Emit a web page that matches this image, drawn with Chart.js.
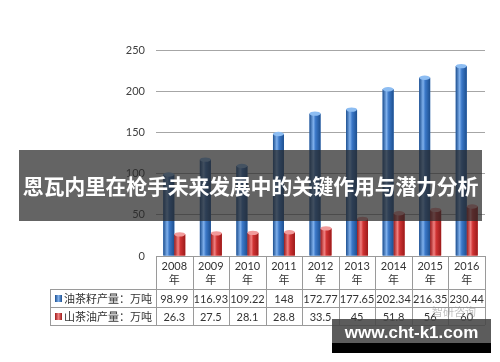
<!DOCTYPE html>
<html>
<head>
<meta charset="utf-8">
<script src="https://cdn.jsdelivr.net/npm/chart.js@4/dist/chart.umd.min.js"></script>
<style>
  html, body { margin: 0; padding: 0; background: #fff; }
  #wrap { position: relative; width: 500px; height: 362px; overflow: hidden; }
  #banner {
    position: absolute; left: 19px; top: 150px; width: 463px; height: 71px;
    background: rgba(40, 40, 40, 0.72); color: #fff;
    font: bold 21px "Noto Sans CJK SC", sans-serif; line-height: 71px;
    text-align: center; white-space: nowrap; letter-spacing: -0.3px;
  }
  #mark {
    position: absolute; left: 332px; top: 319px; width: 159px; height: 24px;
    background: rgba(70, 70, 70, 0.88); color: #fff;
    font: bold 17px "Liberation Sans", sans-serif; line-height: 28px;
    text-align: center; white-space: nowrap;
  }
  #markBar { position: absolute; left: 332px; top: 343px; width: 159px; height: 10px; background: #000; }
  #logo {
    position: absolute; left: 432px; top: 303px; color: rgba(150, 150, 150, 0.6);
    font: 11px "Noto Sans CJK SC", sans-serif;
  }
</style>
</head>
<body>
<div id="wrap">
  <canvas id="myChart" width="500" height="362"></canvas>
  <div id="logo">智研咨询</div>
  <div id="banner">恩瓦内里在枪手未来发展中的关键作用与潜力分析</div>
  <div id="mark">www.cht-k1.com</div>
  <div id="markBar"></div>
</div>
<script>
const annees = ['2008', '2009', '2010', '2011', '2012', '2013', '2014', '2015', '2016']
const yearLabels = annees.map((a) => [a, '年'])
const seedOutput = [98.99, 116.93, 109.22, 148, 172.77, 177.65, 202.34, 216.35, 230.44]
const oilOutput = [26.3, 27.5, 28.1, 28.8, 33.5, 45, 51.8, 56, 60]
const seedLabel = '油茶籽产量：万吨'
const oilLabel = '山茶油产量：万吨'
const yTicks = [0, 50, 100, 150, 200, 250]

// couleurs des cylindres : sombre, clair, base, dessus
const blueShades = ['#1d4f8f', '#7fb0ec', '#3b78c8', '#8dbdf2']
const redShades = ['#9c1a1a', '#f08080', '#d03333', '#f19a9a']

// cylindres 3D dessinés par-dessus les barres de Chart.js
const cylindres = {
    id: 'cylindres',
    afterDatasetsDraw(chart) {
        const ctx = chart.ctx
        chart.data.datasets.forEach((ds, i) => {
            const shades = ds.shades
            chart.getDatasetMeta(i).data.forEach((bar) => {
                const { x, y, base, width } = bar.getProps(['x', 'y', 'base', 'width'], true)
                const left = x - width / 2
                const g = ctx.createLinearGradient(left, 0, left + width, 0)
                g.addColorStop(0, shades[0])
                g.addColorStop(0.35, shades[1])
                g.addColorStop(0.55, shades[2])
                g.addColorStop(1, shades[0])
                ctx.save()
                ctx.fillStyle = g
                ctx.fillRect(left, y, width, base - y)
                ctx.beginPath()
                ctx.ellipse(x, y, width / 2, width * 0.2, 0, 0, Math.PI * 2)
                ctx.fillStyle = shades[3]
                ctx.fill()
                ctx.restore()
            })
        })
    }
}

// tableau de données sous le graphique
const tableau = {
    id: 'tableau',
    afterDraw(chart) {
        const ctx = chart.ctx
        const area = chart.chartArea
        const n = annees.length
        const w = (area.right - area.left) / n
        const top = area.bottom
        const r1 = 289, r2 = 307, bottom = 325, labelLeft = 50
        ctx.save()
        ctx.strokeStyle = '#9a9a9a'
        ctx.lineWidth = 1
        ctx.beginPath()
        ctx.moveTo(area.left, top + 0.5); ctx.lineTo(area.right, top + 0.5)
        ;[r1, r2, bottom].forEach((ry) => { ctx.moveTo(labelLeft, ry + 0.5); ctx.lineTo(area.right, ry + 0.5) })
        for (let i = 0; i <= n; i++) {
            const cx = Math.round(area.left + i * w) + 0.5
            ctx.moveTo(cx, top); ctx.lineTo(cx, bottom)
        }
        ctx.moveTo(labelLeft + 0.5, r1); ctx.lineTo(labelLeft + 0.5, bottom)
        ctx.stroke()

        ctx.fillStyle = '#333'
        ctx.textAlign = 'center'
        ctx.textBaseline = 'middle'
        for (let i = 0; i < n; i++) {
            const cx = chart.scales.x.getPixelForValue(i)
            ctx.font = '11px Lato, sans-serif'
            ctx.fillText(yearLabels[i][0], cx, top + 10)
            ctx.font = '11px "Noto Sans CJK SC", sans-serif'
            ctx.fillText(yearLabels[i][1], cx, top + 24)
            ctx.font = '11px Lato, sans-serif'
            ctx.fillText(String(seedOutput[i]), cx, (r1 + r2) / 2 + 1)
            ctx.fillText(String(oilOutput[i]), cx, (r2 + bottom) / 2 + 1)
        }

        // légende dans la colonne de gauche
        const rows = [[seedLabel, r1, r2, blueShades], [oilLabel, r2, bottom, redShades]]
        rows.forEach(([txt, a, b, sh]) => {
            const my = (a + b) / 2
            const g = ctx.createLinearGradient(55, 0, 62, 0)
            g.addColorStop(0, sh[0]); g.addColorStop(0.5, sh[1]); g.addColorStop(1, sh[0])
            ctx.fillStyle = g
            ctx.fillRect(55, my - 3, 7, 7)
            ctx.fillStyle = '#333'
            ctx.textAlign = 'left'
            ctx.font = '11px "Noto Sans CJK SC", sans-serif'
            ctx.fillText(txt, 64, my + 1)
        })
        ctx.restore()
    }
}

const data = {
    labels: annees,
    datasets: [{
        label: seedLabel,
        data: seedOutput,
        backgroundColor: blueShades[2],
        shades: blueShades
    }, {
        label: oilLabel,
        data: oilOutput,
        backgroundColor: redShades[2],
        shades: redShades
    }]
}

const config = {
    type: 'bar',
    data: data,
    options: {
        responsive: false,
        animation: false,
        layout: { padding: { top: 50, right: 15, bottom: 106, left: 0 } },
        datasets: { bar: { categoryPercentage: 0.6, barPercentage: 1 } },
        plugins: { legend: { display: false }, tooltip: { enabled: false } },
        scales: {
            x: { display: false },
            y: {
                min: 0,
                max: 250,
                afterFit: (s) => { s.width = 156 },
                afterBuildTicks: (s) => { s.ticks = yTicks.map((v) => ({ value: v })) },
                border: { display: false },
                grid: { color: '#a6a6a6', drawTicks: false },
                ticks: { padding: 11, color: '#404040', font: { family: 'Lato', size: 11 } }
            }
        }
    },
    plugins: [cylindres, tableau]
}

const ctx = document.getElementById('myChart')
new Chart(ctx, config)
</script>
</body>
</html>
